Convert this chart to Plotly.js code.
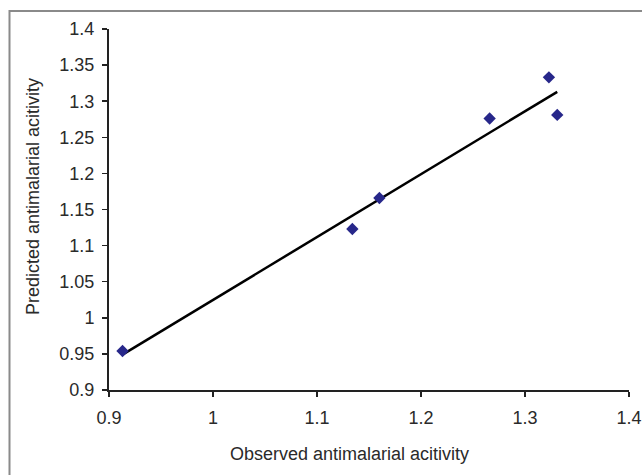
<!DOCTYPE html>
<html>
<head>
<meta charset="utf-8">
<script src="https://cdn.plot.ly/plotly-3.0.1.min.js"></script>
<style>
html,body{margin:0;padding:0;background:#fff;}
#chart{width:642px;height:475px;}
</style>
</head>
<body>
<div id="chart"></div>
<script>
// Data
var observed = [0.913, 1.134, 1.160, 1.266, 1.323, 1.331];
var predicted = [0.954, 1.123, 1.166, 1.276, 1.333, 1.281];
var trendX = [0.913, 1.331];
var trendY = [0.949, 1.313];
var xTickVals = [0.9, 1.0, 1.1, 1.2, 1.3, 1.4];
var xTickText = ['0.9', '1', '1.1', '1.2', '1.3', '1.4'];
var yTickVals = [0.9, 0.95, 1.0, 1.05, 1.1, 1.15, 1.2, 1.25, 1.3, 1.35, 1.4];
var yTickText = ['0.9', '0.95', '1', '1.05', '1.1', '1.15', '1.2', '1.25', '1.3', '1.35', '1.4'];
var xTitle = 'Observed antimalarial acitivity';
var yTitle = 'Predicted antimalarial acitivity';

var font = {family: 'Liberation Sans, Arial, sans-serif', size: 18, color: '#2a2a2a'};

var traces = [
  {x: trendX, y: trendY, type: 'scatter', mode: 'lines',
   line: {color: '#000', width: 2.5}, hoverinfo: 'skip', showlegend: false},
  {x: observed, y: predicted, type: 'scatter', mode: 'markers',
   marker: {symbol: 'diamond', size: 9.5, color: '#27278a'}, showlegend: false}
];

var L = 109, R = 13, T = 29, B = 85, W = 642, H = 475;
var pw = W - L - R, ph = H - T - B;
function px(x){ return (x - L) / pw; }
function py(y){ return (H - B - y) / ph; }

var layout = {
  width: W, height: H,
  margin: {l: L, r: R, t: T, b: B, pad: 0},
  paper_bgcolor: '#fff', plot_bgcolor: '#fff',
  font: font,
  showlegend: false,
  xaxis: {
    range: [0.9, 1.4], tickvals: xTickVals, ticktext: xTickText,
    showgrid: false, zeroline: false, showline: true, linecolor: '#222', linewidth: 2,
    ticks: 'outside', ticklen: 5, tickwidth: 1.5, tickcolor: '#222',
    tickfont: font, ticklabelstandoff: 5
  },
  yaxis: {
    range: [0.9, 1.4], tickvals: yTickVals, ticktext: yTickText,
    showgrid: false, zeroline: false, showline: true, linecolor: '#222', linewidth: 2,
    ticks: 'outside', ticklen: 5, tickwidth: 1.5, tickcolor: '#222',
    tickfont: font, ticklabelstandoff: 4
  },
  annotations: [
    {text: xTitle, xref: 'paper', yref: 'paper', x: px(349.5), y: py(454),
     xanchor: 'center', yanchor: 'middle', showarrow: false, font: font},
    {text: yTitle, xref: 'paper', yref: 'paper', x: px(33), y: py(197),
     xanchor: 'center', yanchor: 'middle', textangle: -90, showarrow: false, font: font}
  ],
  shapes: [
    {type: 'rect', xref: 'paper', yref: 'paper', x0: px(9.5), x1: px(660), y0: py(11), y1: py(490),
     line: {color: '#8a8a8a', width: 2}, fillcolor: 'rgba(0,0,0,0)', layer: 'below'}
  ]
};

Plotly.newPlot('chart', traces, layout, {displayModeBar: false, staticPlot: true});
</script>
</body>
</html>
